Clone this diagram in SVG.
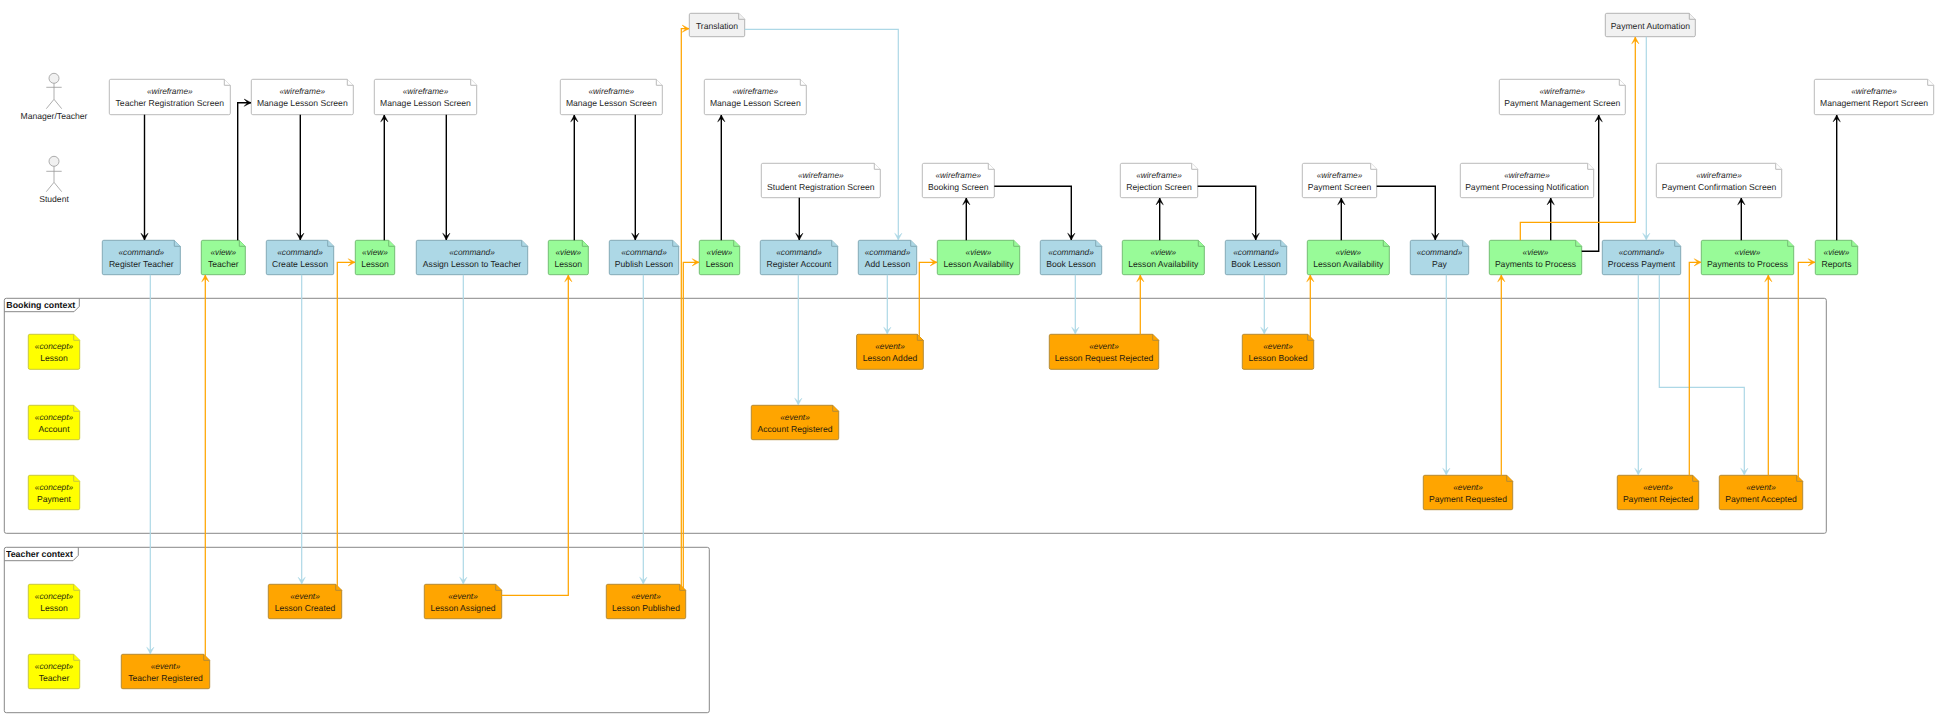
<svg xmlns="http://www.w3.org/2000/svg" width="1945" height="715" viewBox="0 0 1945 715">
<style>
text{font-family:"Liberation Sans",Arial,sans-serif;fill:#111;text-rendering:geometricPrecision;opacity:.93}
.s{font-size:8.3px;font-style:italic;text-anchor:middle}
.n{font-size:8.6px;text-anchor:middle}
.t{font-size:8.8px;font-weight:bold;fill:#000}
.frame path{fill:none;stroke:#888;stroke-width:1}
.actor *{stroke:#999;stroke-width:.8}
.actor circle{fill:#f1f1f1}
.actor path{fill:none}
.actor text{stroke:none}
.wf path{fill:#fff;stroke:#bbb;stroke-width:1}
.sys path{fill:#f1f1f1;stroke:#b3b3b3;stroke-width:1}
.cmd path{fill:#add8e6;stroke:#83a9b6;stroke-width:1}
.view path{fill:#98fb98;stroke:#74bd74;stroke-width:1}
.evt path{fill:#ffa500;stroke:#b48a35;stroke-width:1}
.con path{fill:#ff0;stroke:#c8c83c;stroke-width:1}
.link path{fill:none}
.ui path{stroke:#000;stroke-width:1.4;marker-end:url(#hb)}
.emit path{stroke:#add8e6;stroke-width:1.2;marker-end:url(#hl)}
.feed path{stroke:#ffa500;stroke-width:1.25;marker-end:url(#ho)}
</style>
<defs>
<marker id="hb" viewBox="-9 -6 10 12" refX="0" refY="0" markerWidth="10" markerHeight="12" markerUnits="userSpaceOnUse" orient="auto"><path d="M0 0L-6.8-3.6-3.4 0-6.8 3.6Z" fill="#000" stroke="#000" stroke-width=".5"/></marker>
<marker id="hl" viewBox="-9 -6 10 12" refX="0" refY="0" markerWidth="10" markerHeight="12" markerUnits="userSpaceOnUse" orient="auto"><path d="M0 0L-6.8-3.6-3.4 0-6.8 3.6Z" fill="#add8e6" stroke="#add8e6" stroke-width=".5"/></marker>
<marker id="ho" viewBox="-9 -6 10 12" refX="0" refY="0" markerWidth="10" markerHeight="12" markerUnits="userSpaceOnUse" orient="auto"><path d="M0 0L-6.8-3.6-3.4 0-6.8 3.6Z" fill="#ffa500" stroke="#ffa500" stroke-width=".5"/></marker>
</defs>
<rect width="1945" height="715" fill="#fff"/>

<g id="frame-booking" class="frame"><path d="M6.3 298.3H1824.3a2 2 0 0 1 2 2V531.3a2 2 0 0 1-2 2H6.3a2 2 0 0 1-2-2V300.3a2 2 0 0 1 2-2Z"/><path d="M4.3 311.7H74L79.3 306.4V298.3"/><text class="t" x="6.3" y="308">Booking context</text></g>
<g id="frame-teacher" class="frame"><path d="M6.3 547.3H707.3a2 2 0 0 1 2 2V710.7a2 2 0 0 1-2 2H6.3a2 2 0 0 1-2-2V549.3a2 2 0 0 1 2-2Z"/><path d="M4.3 560.7H73L78.3 555.4V547.3"/><text class="t" x="6" y="557.3">Teacher context</text></g>

<g id="actor-manager" class="actor"><circle cx="54" cy="78.3" r="5"/><path d="M54 83.3V99.3M46.3 87.3H61.7M54 99.3L46.3 108.7M54 99.3L61.7 108.7"/><text class="n" x="54" y="118.5">Manager/Teacher</text></g>
<g id="actor-student" class="actor"><circle cx="54" cy="161.3" r="5"/><path d="M54 166.3V182.3M46.3 171.3H61.7M54 182.3L46.3 191.7M54 182.3L61.7 191.7"/><text class="n" x="54" y="202">Student</text></g>

<g id="wf-teacher-registration" class="wf"><path d="M109.3 80.8a1.5 1.5 0 0 1 1.5-1.5h113.5l6 6v27.9a1.5 1.5 0 0 1-1.5 1.5h-118a1.5 1.5 0 0 1-1.5-1.5z"/><path d="M224.3 79.3v6h6"/><text class="s" x="169.8" y="94.2">«wireframe»</text><text class="n" x="169.8" y="105.6">Teacher Registration Screen</text></g>
<g id="wf-manage-1" class="wf"><path d="M251.3 80.8a1.5 1.5 0 0 1 1.5-1.5h94.5l6 6v27.9a1.5 1.5 0 0 1-1.5 1.5h-99a1.5 1.5 0 0 1-1.5-1.5z"/><path d="M347.3 79.3v6h6"/><text class="s" x="302.3" y="94.2">«wireframe»</text><text class="n" x="302.3" y="105.6">Manage Lesson Screen</text></g>
<g id="wf-manage-2" class="wf"><path d="M374.3 80.8a1.5 1.5 0 0 1 1.5-1.5h94.9l6 6v27.9a1.5 1.5 0 0 1-1.5 1.5h-99.4a1.5 1.5 0 0 1-1.5-1.5z"/><path d="M470.7 79.3v6h6"/><text class="s" x="425.5" y="94.2">«wireframe»</text><text class="n" x="425.5" y="105.6">Manage Lesson Screen</text></g>
<g id="wf-manage-3" class="wf"><path d="M560.3 80.8a1.5 1.5 0 0 1 1.5-1.5h94.5l6 6v27.9a1.5 1.5 0 0 1-1.5 1.5h-99a1.5 1.5 0 0 1-1.5-1.5z"/><path d="M656.3 79.3v6h6"/><text class="s" x="611.3" y="94.2">«wireframe»</text><text class="n" x="611.3" y="105.6">Manage Lesson Screen</text></g>
<g id="wf-manage-4" class="wf"><path d="M704.3 80.8a1.5 1.5 0 0 1 1.5-1.5h94.5l6 6v27.9a1.5 1.5 0 0 1-1.5 1.5h-99a1.5 1.5 0 0 1-1.5-1.5z"/><path d="M800.3 79.3v6h6"/><text class="s" x="755.3" y="94.2">«wireframe»</text><text class="n" x="755.3" y="105.6">Manage Lesson Screen</text></g>
<g id="wf-payment-management" class="wf"><path d="M1499.3 80.8a1.5 1.5 0 0 1 1.5-1.5h118.5l6 6v27.9a1.5 1.5 0 0 1-1.5 1.5h-123a1.5 1.5 0 0 1-1.5-1.5z"/><path d="M1619.3 79.3v6h6"/><text class="s" x="1562.3" y="94.2">«wireframe»</text><text class="n" x="1562.3" y="105.6">Payment Management Screen</text></g>
<g id="wf-management-report" class="wf"><path d="M1814.3 80.8a1.5 1.5 0 0 1 1.5-1.5h111.9l6 6v27.9a1.5 1.5 0 0 1-1.5 1.5h-116.4a1.5 1.5 0 0 1-1.5-1.5z"/><path d="M1927.7 79.3v6h6"/><text class="s" x="1874" y="94.2">«wireframe»</text><text class="n" x="1874" y="105.6">Management Report Screen</text></g>

<g id="wf-student-registration" class="wf"><path d="M761.3 164.8a1.5 1.5 0 0 1 1.5-1.5h111.5l6 6v26.9a1.5 1.5 0 0 1-1.5 1.5h-116a1.5 1.5 0 0 1-1.5-1.5z"/><path d="M874.3 163.3v6h6"/><text class="s" x="820.8" y="178.2">«wireframe»</text><text class="n" x="820.8" y="189.6">Student Registration Screen</text></g>
<g id="wf-booking" class="wf"><path d="M922.3 164.8a1.5 1.5 0 0 1 1.5-1.5h64.5l6 6v26.9a1.5 1.5 0 0 1-1.5 1.5h-69a1.5 1.5 0 0 1-1.5-1.5z"/><path d="M988.3 163.3v6h6"/><text class="s" x="958.3" y="178.2">«wireframe»</text><text class="n" x="958.3" y="189.6">Booking Screen</text></g>
<g id="wf-rejection" class="wf"><path d="M1120.3 164.8a1.5 1.5 0 0 1 1.5-1.5h69.9l6 6v26.9a1.5 1.5 0 0 1-1.5 1.5h-74.4a1.5 1.5 0 0 1-1.5-1.5z"/><path d="M1191.7 163.3v6h6"/><text class="s" x="1159" y="178.2">«wireframe»</text><text class="n" x="1159" y="189.6">Rejection Screen</text></g>
<g id="wf-payment" class="wf"><path d="M1302.3 164.8a1.5 1.5 0 0 1 1.5-1.5h66.9l6 6v26.9a1.5 1.5 0 0 1-1.5 1.5h-71.4a1.5 1.5 0 0 1-1.5-1.5z"/><path d="M1370.7 163.3v6h6"/><text class="s" x="1339.5" y="178.2">«wireframe»</text><text class="n" x="1339.5" y="189.6">Payment Screen</text></g>
<g id="wf-payment-processing" class="wf"><path d="M1460.3 164.8a1.5 1.5 0 0 1 1.5-1.5h125.9l6 6v26.9a1.5 1.5 0 0 1-1.5 1.5h-130.4a1.5 1.5 0 0 1-1.5-1.5z"/><path d="M1587.7 163.3v6h6"/><text class="s" x="1527" y="178.2">«wireframe»</text><text class="n" x="1527" y="189.6">Payment Processing Notification</text></g>
<g id="wf-payment-confirmation" class="wf"><path d="M1656.3 164.8a1.5 1.5 0 0 1 1.5-1.5h117.9l6 6v26.9a1.5 1.5 0 0 1-1.5 1.5h-122.4a1.5 1.5 0 0 1-1.5-1.5z"/><path d="M1775.7 163.3v6h6"/><text class="s" x="1719" y="178.2">«wireframe»</text><text class="n" x="1719" y="189.6">Payment Confirmation Screen</text></g>

<g id="sys-translation" class="sys"><path d="M689.3 14.8a1.5 1.5 0 0 1 1.5-1.5h47.9l6 6v15.9a1.5 1.5 0 0 1-1.5 1.5h-52.4a1.5 1.5 0 0 1-1.5-1.5z"/><path d="M738.7 13.3v6h6"/><text class="n" x="717" y="28.6">Translation</text></g>
<g id="sys-payment-automation" class="sys"><path d="M1605.3 14.8a1.5 1.5 0 0 1 1.5-1.5h82.5l6 6v15.9a1.5 1.5 0 0 1-1.5 1.5h-87a1.5 1.5 0 0 1-1.5-1.5z"/><path d="M1689.3 13.3v6h6"/><text class="n" x="1650.3" y="28.6">Payment Automation</text></g>

<g id="cmd-register-teacher" class="cmd"><path d="M102.3 241.8a1.5 1.5 0 0 1 1.5-1.5h70.5l6 6v26.9a1.5 1.5 0 0 1-1.5 1.5h-75a1.5 1.5 0 0 1-1.5-1.5z"/><path d="M174.3 240.3v6h6"/><text class="s" x="141.3" y="255.2">«command»</text><text class="n" x="141.3" y="266.6">Register Teacher</text></g>
<g id="view-teacher" class="view"><path d="M201.3 241.8a1.5 1.5 0 0 1 1.5-1.5h36.5l6 6v26.9a1.5 1.5 0 0 1-1.5 1.5h-41a1.5 1.5 0 0 1-1.5-1.5z"/><path d="M239.3 240.3v6h6"/><text class="s" x="223.3" y="255.2">«view»</text><text class="n" x="223.3" y="266.6">Teacher</text></g>
<g id="cmd-create-lesson" class="cmd"><path d="M266.3 241.8a1.5 1.5 0 0 1 1.5-1.5h59.9l6 6v26.9a1.5 1.5 0 0 1-1.5 1.5h-64.4a1.5 1.5 0 0 1-1.5-1.5z"/><path d="M327.7 240.3v6h6"/><text class="s" x="300" y="255.2">«command»</text><text class="n" x="300" y="266.6">Create Lesson</text></g>
<g id="view-lesson-1" class="view"><path d="M355.3 241.8a1.5 1.5 0 0 1 1.5-1.5h31.9l6 6v26.9a1.5 1.5 0 0 1-1.5 1.5h-36.4a1.5 1.5 0 0 1-1.5-1.5z"/><path d="M388.7 240.3v6h6"/><text class="s" x="375" y="255.2">«view»</text><text class="n" x="375" y="266.6">Lesson</text></g>
<g id="cmd-assign-lesson" class="cmd"><path d="M416.3 241.8a1.5 1.5 0 0 1 1.5-1.5h103.9l6 6v26.9a1.5 1.5 0 0 1-1.5 1.5h-108.4a1.5 1.5 0 0 1-1.5-1.5z"/><path d="M521.7 240.3v6h6"/><text class="s" x="472" y="255.2">«command»</text><text class="n" x="472" y="266.6">Assign Lesson to Teacher</text></g>
<g id="view-lesson-2" class="view"><path d="M548.3 241.8a1.5 1.5 0 0 1 1.5-1.5h32.5l6 6v26.9a1.5 1.5 0 0 1-1.5 1.5h-37a1.5 1.5 0 0 1-1.5-1.5z"/><path d="M582.3 240.3v6h6"/><text class="s" x="568.3" y="255.2">«view»</text><text class="n" x="568.3" y="266.6">Lesson</text></g>
<g id="cmd-publish-lesson" class="cmd"><path d="M609.3 241.8a1.5 1.5 0 0 1 1.5-1.5h61.9l6 6v26.9a1.5 1.5 0 0 1-1.5 1.5h-66.4a1.5 1.5 0 0 1-1.5-1.5z"/><path d="M672.7 240.3v6h6"/><text class="s" x="644" y="255.2">«command»</text><text class="n" x="644" y="266.6">Publish Lesson</text></g>
<g id="view-lesson-3" class="view"><path d="M699.3 241.8a1.5 1.5 0 0 1 1.5-1.5h32.9l6 6v26.9a1.5 1.5 0 0 1-1.5 1.5h-37.4a1.5 1.5 0 0 1-1.5-1.5z"/><path d="M733.7 240.3v6h6"/><text class="s" x="719.5" y="255.2">«view»</text><text class="n" x="719.5" y="266.6">Lesson</text></g>
<g id="cmd-register-account" class="cmd"><path d="M760.3 241.8a1.5 1.5 0 0 1 1.5-1.5h69.9l6 6v26.9a1.5 1.5 0 0 1-1.5 1.5h-74.4a1.5 1.5 0 0 1-1.5-1.5z"/><path d="M831.7 240.3v6h6"/><text class="s" x="799" y="255.2">«command»</text><text class="n" x="799" y="266.6">Register Account</text></g>
<g id="cmd-add-lesson" class="cmd"><path d="M858.3 241.8a1.5 1.5 0 0 1 1.5-1.5h50.9l6 6v26.9a1.5 1.5 0 0 1-1.5 1.5h-55.4a1.5 1.5 0 0 1-1.5-1.5z"/><path d="M910.7 240.3v6h6"/><text class="s" x="887.5" y="255.2">«command»</text><text class="n" x="887.5" y="266.6">Add Lesson</text></g>
<g id="view-availability-1" class="view"><path d="M937.3 241.8a1.5 1.5 0 0 1 1.5-1.5h74.9l6 6v26.9a1.5 1.5 0 0 1-1.5 1.5h-79.4a1.5 1.5 0 0 1-1.5-1.5z"/><path d="M1013.7 240.3v6h6"/><text class="s" x="978.5" y="255.2">«view»</text><text class="n" x="978.5" y="266.6">Lesson Availability</text></g>
<g id="cmd-book-lesson-1" class="cmd"><path d="M1040.3 241.8a1.5 1.5 0 0 1 1.5-1.5h53.9l6 6v26.9a1.5 1.5 0 0 1-1.5 1.5h-58.4a1.5 1.5 0 0 1-1.5-1.5z"/><path d="M1095.7 240.3v6h6"/><text class="s" x="1071" y="255.2">«command»</text><text class="n" x="1071" y="266.6">Book Lesson</text></g>
<g id="view-availability-2" class="view"><path d="M1122.3 241.8a1.5 1.5 0 0 1 1.5-1.5h74.5l6 6v26.9a1.5 1.5 0 0 1-1.5 1.5h-79a1.5 1.5 0 0 1-1.5-1.5z"/><path d="M1198.3 240.3v6h6"/><text class="s" x="1163.3" y="255.2">«view»</text><text class="n" x="1163.3" y="266.6">Lesson Availability</text></g>
<g id="cmd-book-lesson-2" class="cmd"><path d="M1225.3 241.8a1.5 1.5 0 0 1 1.5-1.5h53.9l6 6v26.9a1.5 1.5 0 0 1-1.5 1.5h-58.4a1.5 1.5 0 0 1-1.5-1.5z"/><path d="M1280.7 240.3v6h6"/><text class="s" x="1256" y="255.2">«command»</text><text class="n" x="1256" y="266.6">Book Lesson</text></g>
<g id="view-availability-3" class="view"><path d="M1307.3 241.8a1.5 1.5 0 0 1 1.5-1.5h74.5l6 6v26.9a1.5 1.5 0 0 1-1.5 1.5h-79a1.5 1.5 0 0 1-1.5-1.5z"/><path d="M1383.3 240.3v6h6"/><text class="s" x="1348.3" y="255.2">«view»</text><text class="n" x="1348.3" y="266.6">Lesson Availability</text></g>
<g id="cmd-pay" class="cmd"><path d="M1410.3 241.8a1.5 1.5 0 0 1 1.5-1.5h50.9l6 6v26.9a1.5 1.5 0 0 1-1.5 1.5h-55.4a1.5 1.5 0 0 1-1.5-1.5z"/><path d="M1462.7 240.3v6h6"/><text class="s" x="1439.5" y="255.2">«command»</text><text class="n" x="1439.5" y="266.6">Pay</text></g>
<g id="view-payments-1" class="view"><path d="M1489.3 241.8a1.5 1.5 0 0 1 1.5-1.5h84.9l6 6v26.9a1.5 1.5 0 0 1-1.5 1.5h-89.4a1.5 1.5 0 0 1-1.5-1.5z"/><path d="M1575.7 240.3v6h6"/><text class="s" x="1535.5" y="255.2">«view»</text><text class="n" x="1535.5" y="266.6">Payments to Process</text></g>
<g id="cmd-process-payment" class="cmd"><path d="M1602.3 241.8a1.5 1.5 0 0 1 1.5-1.5h70.9l6 6v26.9a1.5 1.5 0 0 1-1.5 1.5h-75.4a1.5 1.5 0 0 1-1.5-1.5z"/><path d="M1674.7 240.3v6h6"/><text class="s" x="1641.5" y="255.2">«command»</text><text class="n" x="1641.5" y="266.6">Process Payment</text></g>
<g id="view-payments-2" class="view"><path d="M1701.3 241.8a1.5 1.5 0 0 1 1.5-1.5h84.9l6 6v26.9a1.5 1.5 0 0 1-1.5 1.5h-89.4a1.5 1.5 0 0 1-1.5-1.5z"/><path d="M1787.7 240.3v6h6"/><text class="s" x="1747.5" y="255.2">«view»</text><text class="n" x="1747.5" y="266.6">Payments to Process</text></g>
<g id="view-reports" class="view"><path d="M1815.3 241.8a1.5 1.5 0 0 1 1.5-1.5h34.9l6 6v26.9a1.5 1.5 0 0 1-1.5 1.5h-39.4a1.5 1.5 0 0 1-1.5-1.5z"/><path d="M1851.7 240.3v6h6"/><text class="s" x="1836.5" y="255.2">«view»</text><text class="n" x="1836.5" y="266.6">Reports</text></g>

<g id="concept-booking-lesson" class="con"><path d="M28.3 335.8a1.5 1.5 0 0 1 1.5-1.5h43.9l6 6v27.5a1.5 1.5 0 0 1-1.5 1.5h-48.4a1.5 1.5 0 0 1-1.5-1.5z"/><path d="M73.7 334.3v6h6"/><text class="s" x="54" y="349.2">«concept»</text><text class="n" x="54" y="360.6">Lesson</text></g>
<g id="concept-account" class="con"><path d="M28.3 406.8a1.5 1.5 0 0 1 1.5-1.5h43.9l6 6v26.9a1.5 1.5 0 0 1-1.5 1.5h-48.4a1.5 1.5 0 0 1-1.5-1.5z"/><path d="M73.7 405.3v6h6"/><text class="s" x="54" y="420.2">«concept»</text><text class="n" x="54" y="431.6">Account</text></g>
<g id="concept-payment" class="con"><path d="M28.3 476.8a1.5 1.5 0 0 1 1.5-1.5h43.9l6 6v26.9a1.5 1.5 0 0 1-1.5 1.5h-48.4a1.5 1.5 0 0 1-1.5-1.5z"/><path d="M73.7 475.3v6h6"/><text class="s" x="54" y="490.2">«concept»</text><text class="n" x="54" y="501.6">Payment</text></g>
<g id="concept-teacher-lesson" class="con"><path d="M28.3 585.8a1.5 1.5 0 0 1 1.5-1.5h43.9l6 6v26.9a1.5 1.5 0 0 1-1.5 1.5h-48.4a1.5 1.5 0 0 1-1.5-1.5z"/><path d="M73.7 584.3v6h6"/><text class="s" x="54" y="599.2">«concept»</text><text class="n" x="54" y="610.6">Lesson</text></g>
<g id="concept-teacher" class="con"><path d="M28.3 655.8a1.5 1.5 0 0 1 1.5-1.5h43.9l6 6v26.9a1.5 1.5 0 0 1-1.5 1.5h-48.4a1.5 1.5 0 0 1-1.5-1.5z"/><path d="M73.7 654.3v6h6"/><text class="s" x="54" y="669.2">«concept»</text><text class="n" x="54" y="680.6">Teacher</text></g>

<g id="evt-teacher-registered" class="evt"><path d="M121.3 655.8a1.5 1.5 0 0 1 1.5-1.5h80.9l6 6v26.9a1.5 1.5 0 0 1-1.5 1.5h-85.4a1.5 1.5 0 0 1-1.5-1.5z"/><path d="M203.7 654.3v6h6"/><text class="s" x="165.5" y="669.2">«event»</text><text class="n" x="165.5" y="680.6">Teacher Registered</text></g>
<g id="evt-lesson-created" class="evt"><path d="M268.3 585.8a1.5 1.5 0 0 1 1.5-1.5h65.9l6 6v26.9a1.5 1.5 0 0 1-1.5 1.5h-70.4a1.5 1.5 0 0 1-1.5-1.5z"/><path d="M335.7 584.3v6h6"/><text class="s" x="305" y="599.2">«event»</text><text class="n" x="305" y="610.6">Lesson Created</text></g>
<g id="evt-lesson-assigned" class="evt"><path d="M424.3 585.8a1.5 1.5 0 0 1 1.5-1.5h69.9l6 6v26.9a1.5 1.5 0 0 1-1.5 1.5h-74.4a1.5 1.5 0 0 1-1.5-1.5z"/><path d="M495.7 584.3v6h6"/><text class="s" x="463" y="599.2">«event»</text><text class="n" x="463" y="610.6">Lesson Assigned</text></g>
<g id="evt-lesson-published" class="evt"><path d="M606.3 585.8a1.5 1.5 0 0 1 1.5-1.5h71.9l6 6v26.9a1.5 1.5 0 0 1-1.5 1.5h-76.4a1.5 1.5 0 0 1-1.5-1.5z"/><path d="M679.7 584.3v6h6"/><text class="s" x="646" y="599.2">«event»</text><text class="n" x="646" y="610.6">Lesson Published</text></g>
<g id="evt-account-registered" class="evt"><path d="M751.3 406.8a1.5 1.5 0 0 1 1.5-1.5h79.9l6 6v26.9a1.5 1.5 0 0 1-1.5 1.5h-84.4a1.5 1.5 0 0 1-1.5-1.5z"/><path d="M832.7 405.3v6h6"/><text class="s" x="795" y="420.2">«event»</text><text class="n" x="795" y="431.6">Account Registered</text></g>
<g id="evt-lesson-added" class="evt"><path d="M856.6 335.8a1.5 1.5 0 0 1 1.5-1.5h59.2l6 6v27.5a1.5 1.5 0 0 1-1.5 1.5h-63.7a1.5 1.5 0 0 1-1.5-1.5z"/><path d="M917.3 334.3v6h6"/><text class="s" x="890" y="349.2">«event»</text><text class="n" x="890" y="360.6">Lesson Added</text></g>
<g id="evt-lesson-rejected" class="evt"><path d="M1049.3 335.8a1.5 1.5 0 0 1 1.5-1.5h101.9l6 6v27.5a1.5 1.5 0 0 1-1.5 1.5h-106.4a1.5 1.5 0 0 1-1.5-1.5z"/><path d="M1152.7 334.3v6h6"/><text class="s" x="1104" y="349.2">«event»</text><text class="n" x="1104" y="360.6">Lesson Request Rejected</text></g>
<g id="evt-lesson-booked" class="evt"><path d="M1242.3 335.8a1.5 1.5 0 0 1 1.5-1.5h63.9l6 6v27.5a1.5 1.5 0 0 1-1.5 1.5h-68.4a1.5 1.5 0 0 1-1.5-1.5z"/><path d="M1307.7 334.3v6h6"/><text class="s" x="1278" y="349.2">«event»</text><text class="n" x="1278" y="360.6">Lesson Booked</text></g>
<g id="evt-payment-requested" class="evt"><path d="M1423.3 476.8a1.5 1.5 0 0 1 1.5-1.5h81.9l6 6v26.9a1.5 1.5 0 0 1-1.5 1.5h-86.4a1.5 1.5 0 0 1-1.5-1.5z"/><path d="M1506.7 475.3v6h6"/><text class="s" x="1468" y="490.2">«event»</text><text class="n" x="1468" y="501.6">Payment Requested</text></g>
<g id="evt-payment-rejected" class="evt"><path d="M1617.3 476.8a1.5 1.5 0 0 1 1.5-1.5h73.9l6 6v26.9a1.5 1.5 0 0 1-1.5 1.5h-78.4a1.5 1.5 0 0 1-1.5-1.5z"/><path d="M1692.7 475.3v6h6"/><text class="s" x="1658" y="490.2">«event»</text><text class="n" x="1658" y="501.6">Payment Rejected</text></g>
<g id="evt-payment-accepted" class="evt"><path d="M1719.3 476.8a1.5 1.5 0 0 1 1.5-1.5h75.9l6 6v26.9a1.5 1.5 0 0 1-1.5 1.5h-80.4a1.5 1.5 0 0 1-1.5-1.5z"/><path d="M1796.7 475.3v6h6"/><text class="s" x="1761" y="490.2">«event»</text><text class="n" x="1761" y="501.6">Payment Accepted</text></g>

<g id="connectors" class="link">
<g class="ui">
<path d="M144.5 114.7V240"/>
<path d="M237.7 240.3V102.7H251"/>
<path d="M300.3 114.7V240"/>
<path d="M384.3 240.3V115"/>
<path d="M446.3 114.7V240"/>
<path d="M574.3 240.3V115"/>
<path d="M635.3 114.7V240"/>
<path d="M721.3 240.3V115"/>
<path d="M799.3 197.7V240"/>
<path d="M966.3 240.3V198"/>
<path d="M994.3 186.3H1071.3V240"/>
<path d="M1159.7 240.3V198"/>
<path d="M1197.7 186.3H1255.7V240"/>
<path d="M1341.3 240.3V198"/>
<path d="M1376.7 186.3H1435.3V240"/>
<path d="M1550.7 240.3V198"/>
<path d="M1581.7 251.3H1598.7V115"/>
<path d="M1741.3 240.3V198"/>
<path d="M1836.7 240.3V115"/>
</g>
<g class="emit">
<path d="M150.3 274.7V654"/>
<path d="M301.7 274.7V584"/>
<path d="M463.3 274.7V584"/>
<path d="M643.3 274.7V584"/>
<path d="M798.3 274.7V405"/>
<path d="M887.3 274.7V334"/>
<path d="M1075.3 274.7V334"/>
<path d="M1264.3 274.7V334"/>
<path d="M1446.3 274.7V475"/>
<path d="M1638.3 274.7V475"/>
<path d="M1659.3 274.7V387.3H1744.3V475"/>
<path d="M744.7 29.3H898.3V240"/>
<path d="M1646.3 36.7V240"/>
</g>
<g class="feed">
<path d="M205.3 655.9V275"/>
<path d="M337.3 585.9V262.3H355"/>
<path d="M501.7 595.3H568.3V275"/>
<path d="M681.3 586V28.7H689"/>
<path d="M683.3 588V262.3H699"/>
<path d="M919.3 336.3V262.3H937"/>
<path d="M1140.3 334.3V275"/>
<path d="M1310.3 336.9V275"/>
<path d="M1501.3 475.3V275"/>
<path d="M1520.3 240.3V222.3H1635.3V37"/>
<path d="M1689.3 475.3V262.3H1701"/>
<path d="M1768.3 475.3V275"/>
<path d="M1798.3 476.9V262.3H1815"/>
</g>
</g>
</svg>
